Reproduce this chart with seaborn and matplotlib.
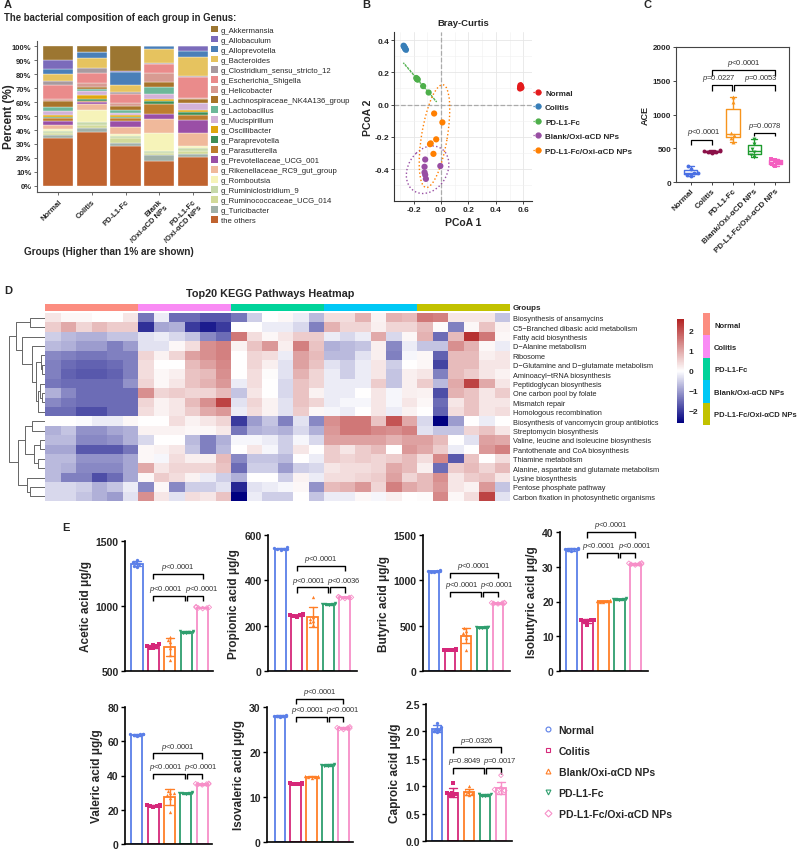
import numpy as np
import pandas as pd
import matplotlib
matplotlib.use("Agg")
import matplotlib.pyplot as plt
import seaborn as sns
from matplotlib.colors import LinearSegmentedColormap, ListedColormap
from matplotlib.lines import Line2D
from matplotlib.patches import Patch, Ellipse
from matplotlib.ticker import FormatStrFormatter

sns.set_theme(style="white")
plt.rcParams["font.family"] = ["Liberation Sans", "DejaVu Sans"]
plt.rcParams["mathtext.fontset"] = "custom"
plt.rcParams["mathtext.it"] = "Liberation Sans:italic"
plt.rcParams["mathtext.rm"] = "Liberation Sans"

# ---------------- A: genus composition ----------------
genera = ["g_Akkermansia", "g_Allobaculum", "g_Alloprevotella", "g_Bacteroides",
          "g_Clostridium_sensu_stricto_12", "g_Escherichia_Shigella", "g_Helicobacter",
          "g_Lachnospiraceae_NK4A136_group", "g_Lactobacillus", "g_Mucispirillum",
          "g_Oscillibacter", "g_Paraprevotella", "g_Parasutterella", "g_Prevotellaceae_UCG_001",
          "g_Rikenellaceae_RC9_gut_group", "g_Romboutsia", "g_Ruminiclostridium_9",
          "g_Ruminococcaceae_UCG_014", "g_Turicibacter", "the others"]
genus_colors = ["#9c7631", "#7b6bbb", "#4a7fb8", "#e6c35f", "#a89a9f", "#ea8b8b", "#d89b92",
                "#a8742a", "#6cb89a", "#d3b2d8", "#dfa70f", "#3f8f57", "#bd7d2e", "#9a4fa6",
                "#f0b99b", "#f6f3b9", "#c7d9aa", "#d2da9a", "#a1b1a9", "#c0632f"]
comp_groups = ["Normal", "Colitis", "PD-L1-Fc", "Blank/Oxi-αCD NPs", "PD-L1-Fc/Oxi-αCD NPs"]
comp_labels = ["Normal", "Colitis", "PD-L1-Fc", "Blank\n/Oxi-αCD NPs", "PD-L1-Fc\n/Oxi-αCD NPs"]
comp_normal = [10, 6.5, 3.5, 5, 3, 10, 1, 4.5, 3, 2.5, 2, 0.5, 2, 3, 2.5, 1.5, 1.5, 1.5, 2, 34.5]
comp_colitis = [4, 0, 4.5, 7, 4, 7, 2.5, 1.5, 1.5, 3, 3, 1, 1, 1.5, 4.5, 8.5, 2, 2, 3, 38.5]
comp_pdl1 = [18, 0.5, 9.5, 5, 1, 7, 1.5, 3.5, 1.5, 2, 1, 1, 2, 4.5, 4.5, 1.5, 2, 3, 2.5, 28.5]
comp_blank = [0, 0, 2, 10, 0.5, 7, 6, 4, 5, 3.5, 1.5, 2, 7, 3.5, 10, 13, 1.5, 1.5, 4, 18]
comp_combo = [0, 3.5, 4.5, 13.5, 0.5, 15, 1, 2.5, 0.5, 5, 1, 2.5, 3, 9.5, 9.5, 1.5, 2, 2.5, 2, 20.5]

# ---------------- B: PCoA ----------------
pcoa_groups = ["Normal", "Colitis", "PD-L1-Fc", "Blank/Oxi-αCD NPs", "PD-L1-Fc/Oxi-αCD NPs"]
pcoa_colors = ["#e41a1c", "#377eb8", "#4daf4a", "#984ea3", "#ff7f00"]
pcoa1 = [0.575, 0.58, 0.585, 0.578, 0.582, 0.576,
         -0.27, -0.265, -0.26, -0.272, -0.255, -0.262,
         -0.175, -0.17, -0.18, -0.13, -0.09, -0.172,
         -0.115, -0.12, -0.12, -0.115, -0.11, -0.005,
         -0.05, 0.01, -0.035, -0.075, -0.08, -0.055]
pcoa2 = [0.10, 0.115, 0.105, 0.12, 0.11, 0.108,
         0.36, 0.355, 0.345, 0.365, 0.34, 0.35,
         0.16, 0.155, 0.165, 0.115, 0.075, 0.158,
         -0.34, -0.385, -0.42, -0.435, -0.46, -0.38,
         -0.055, -0.11, -0.215, -0.24, -0.245, -0.305]
ELLIPSE_SCALE = 3.4

# ---------------- C: ACE ----------------
ace_groups = ["Normal", "Colitis", "PD-L1-Fc", "Blank/Oxi-αCD NPs", "PD-L1-Fc/Oxi-αCD NPs"]
ace_colors = ["#4a6fe3", "#8b1048", "#f7941d", "#1e9b2e", "#f45fc0"]
ace_markers = ["o", "o", "^", "v", "s"]
ace_normal = [90, 110, 130, 140, 190, 230]
ace_colitis = [430, 440, 450, 455, 460, 470]
ace_pdl1 = [600, 650, 690, 730, 1190, 1255]
ace_blank = [370, 400, 440, 490, 570, 630]
ace_combo = [230, 260, 280, 300, 330, 345]

# ---------------- D: KEGG heatmap ----------------
kegg_pathways = ["Biosynthesis of ansamycins", "C5\u2212Branched dibasic acid metabolism",
                 "Fatty acid biosynthesis", "D\u2212Alanine metabolism", "Ribosome",
                 "D\u2212Glutamine and D\u2212glutamate metabolism", "Aminoacyl\u2212tRNA biosynthesis",
                 "Peptidoglycan biosynthesis", "One carbon pool by folate", "Mismatch repair",
                 "Homologous recombination", "Biosynthesis of vancomycin group antibiotics",
                 "Streptomycin biosynthesis", "Valine, leucine and isoleucine biosynthesis",
                 "Pantothenate and CoA biosynthesis", "Thiamine metabolism",
                 "Alanine, aspartate and glutamate metabolism", "Lysine biosynthesis",
                 "Pentose phosphate pathway", "Carbon fixation in photosynthetic organisms"]
kegg_groups = ["Normal", "Colitis", "PD-L1-Fc", "Blank/Oxi-αCD NPs", "PD-L1-Fc/Oxi-αCD NPs"]
kegg_group_colors = ["#fc8d80", "#f98bf4", "#00d39a", "#00c8f5", "#c2c200"]
kegg_zscores = [
    [0.3, 0.1, 0.1, 0, 0, 0.3, -1.4, -0.2, -1.5, -1.5, -1.7, -1.7, -1.4, -0.5, 0, 0.1, -0.2, -0.7, 0.4, 0.4, 0.9, 0.15, 0.9, 0.8, 1.6, 1.5, 0.3, 0.3, 0.3, -0.6],
    [0.6, 1.0, 0.5, 0.8, 0.6, 0.6, -2.1, -0.9, -0.8, -2.0, -2.3, -2.0, 0, 0, -0.2, -0.2, -0.4, -1.3, 0.9, 0.5, 0.5, 0.2, 0.5, 0.5, 0.8, 0.05, -1.3, 0.1, 0.7, 0.15],
    [-0.5, -0.7, -0.8, -0.8, -0.6, -0.6, -0.3, -0.2, -0.4, -0.6, -1.2, -1.5, 1.6, 0.4, 0.1, 0.3, 0.6, 0.6, -0.2, -0.4, -0.2, 1.0, -0.4, 0.1, 0.9, -1.5, 0.8, 2.4, 1.6, 0.1],
    [-0.7, -0.8, -1.0, -1.0, -1.3, -1.0, -0.3, -0.3, 0.1, 0.4, 1.3, 1.5, 0.15, 0.7, 1.2, 0.2, 1.5, 0.7, -0.8, -0.7, -0.6, 0.2, -1.2, -0.2, -0.6, -0.6, 1.3, 0.9, 0.1, -0.2],
    [-1.2, -1.3, -1.4, -1.4, -1.3, -1.3, 0.5, 0.15, 0.5, 1.1, 1.3, 1.5, 0, 0.5, 0.4, -0.2, 1.1, 0.8, -0.7, -0.7, -0.3, 0.2, -1.3, -0.1, 0.1, -1.6, 0.8, 0.8, 0.2, 0.3],
    [-1.3, -1.5, -1.6, -1.6, -1.5, -1.3, 0.4, 0, 0, 0.8, 1.1, 1.4, 0, 0.5, 0.2, -0.3, 1.1, 0.7, -0.3, -0.5, -0.2, 0.3, -0.5, 0, 0.1, -1.9, 0.8, 0.8, 0.3, 0.3],
    [-1.3, -1.6, -1.7, -1.7, -1.6, -1.3, 0.4, 0.1, 0.2, 0.7, 0.8, 1.3, 0, 0.4, 0.05, -0.3, 0.9, 0.5, -0.2, -0.5, -0.2, 0.3, -0.6, 0.2, 0.3, -1.3, 0.8, 0.6, 0.3, 0.15],
    [-1.4, -1.5, -1.5, -1.5, -1.5, -1.1, 0.5, 0.1, 0.3, 0.7, 0.9, 1.2, -0.2, 0.4, 0, -0.4, 0.7, 0.5, -0.2, -0.2, -0.2, 0.6, -0.6, 0.2, 0.6, -0.7, 1.0, 2.2, 1.0, 0.3],
    [-0.8, -1.2, -1.5, -1.5, -1.5, -1.5, 1.3, 0.5, 0.6, 0.5, 0.5, 0.8, -0.6, 0.3, 0, -0.4, 0.7, 0.15, -0.2, -0.2, 0, 0.3, -0.1, 0.2, 0.15, -1.8, 0.9, 0.7, 0.3, 0.6],
    [-1.2, -1.4, -1.5, -1.5, -1.5, -1.5, 0.5, 0.15, 0.3, 0.8, 1.3, 2.2, -0.3, 0.5, 0.15, -0.3, 0.7, 0.5, -0.2, -0.1, -0.1, 0.3, -0.1, 0.3, 0.1, -1.5, 0.3, 0.7, 0.3, 0.3],
    [-1.5, -1.5, -1.8, -1.8, -1.5, -1.5, 0.4, 0.15, 0.3, 0.6, 1.0, 1.2, -0.2, 0.4, 0.15, -0.3, 0.6, 0.1, -0.1, -0.2, 0, 0.3, -0.2, 0.15, 0, -1.6, 0.4, 0.7, 0.3, 0.4],
    [0, 0, -0.05, -0.2, -0.2, 0.1, 0, 0, 0.4, 0.15, 0.3, 0.5, -2.0, -1.0, -0.6, -1.3, -0.3, -1.2, 1.3, 1.6, 1.6, 0.7, 2.0, 1.0, -0.4, -2.6, -1.0, 0, -0.2, 0],
    [-0.8, -0.6, -1.1, -1.1, -0.9, -0.8, 0.15, 0.15, 0.15, 0.1, 0.1, 0.25, -1.4, -0.8, -0.7, -0.8, -0.4, -0.8, 1.2, 1.6, 1.6, 1.4, 1.3, 1.5, -0.3, -0.6, -0.6, 0.5, 0.7, 0.3],
    [-0.7, -0.7, -1.2, -1.2, -1.1, -0.8, -0.4, 0, 0, -0.7, -1.3, -0.8, -0.1, -0.1, -0.2, -0.5, -0.1, -0.4, 1.1, 1.1, 1.1, 1.1, 0.9, 1.1, 1.1, 0.8, 0, -0.3, 1.1, 1.0],
    [-0.9, -0.9, -1.7, -1.7, -1.7, -1.4, 0.1, 0.15, 0.3, -0.6, -1.3, -0.7, 0, 0.3, -0.1, -0.5, 0.3, 0, 0.6, 0.3, 0.6, 0.8, 0, 1.2, 1.0, 0.6, -0.2, 0, 1.2, 1.5],
    [-0.7, -0.7, -1.1, -1.1, -1.1, -0.9, 0.1, -0.1, 0.4, 0.2, 0.2, 0.8, -1.2, -0.6, -0.6, -0.7, 0, -0.2, 0.6, 0.5, 0.6, 0.5, 0.6, 0.8, 0.4, 1.4, -1.7, 0.7, 0, 0.4],
    [-0.7, -0.8, -1.2, -1.2, -1.2, -0.9, 1.0, 0.3, 0.5, 0.5, 0.5, 0.7, -1.5, -0.5, -0.5, -1.0, -0.5, -0.4, 0.3, 0.4, 0.4, 0.5, 1.0, 0.8, 0.2, -1.5, 0.6, 0.8, 0.5, 0.8],
    [-0.7, -1.3, -1.3, -1.8, -1.5, -0.9, 0.1, 0.6, 0.4, 0.15, -0.2, -0.5, -0.8, 0, 0, -0.5, 0.15, -0.2, 0.4, 0.4, 0.5, 0.6, 1.1, 0.5, 0.8, 1.3, 0.3, 0.6, 0.7, 0.3],
    [-0.4, -0.4, -0.5, -0.8, -0.6, -0.2, -1.2, 0.1, -1.2, -0.5, -0.5, -0.3, -2.2, -0.3, -0.2, -0.1, 0.1, -1.1, 0.8, 0.9, 1.2, 0.5, 1.5, 1.0, 0.8, 1.2, 0.3, 0.15, 1.2, -0.6],
    [-0.4, -0.4, -0.6, -0.8, -1.0, -0.3, 1.3, 0.3, -0.3, 0.4, 0.3, 0.7, -2.7, -0.2, -0.5, -0.5, 0, -0.6, -0.2, -0.2, 0.1, -0.1, 0.2, 0, 0.05, 1.4, 0.1, 0.4, 2.2, -0.3],
]
# row dendrogram: (left, right, height), leaves are row indices
kegg_tree = (((0, 1, 0.40),
              (2, (3, ((4, (5, 6, 0.08), 0.12), ((7, (8, 9, 0.08), 0.14), 10, 0.2), 0.25), 0.35), 0.62),
              0.80),
             (((11, 12, 0.35), ((13, 14, 0.15), (15, 16, 0.2), 0.3), 0.55),
              (17, (18, 19, 0.4), 0.5), 0.75),
             1.0)

# ---------------- E: short-chain fatty acids ----------------
scfa_groups = ["Normal", "Colitis", "Blank/Oxi-αCD NPs", "PD-L1-Fc", "PD-L1-Fc/Oxi-αCD NPs"]
scfa_colors = ["#5b7fe8", "#d6287a", "#ff7f27", "#2e9e6e", "#f78fc8"]
scfa_markers = ["o", "s", "^", "v", "D"]
acetic = [[1300, 1310, 1320, 1330, 1340, 1355], [675, 680, 690, 695, 700, 705],
          [585, 620, 680, 720, 740, 765], [790, 795, 800, 805, 810, 800], [980, 985, 990, 995, 990, 985]]
propionic = [[535, 538, 540, 542, 545, 540], [240, 243, 245, 247, 250, 245],
             [205, 215, 222, 230, 240, 325], [292, 294, 295, 296, 298, 295], [320, 322, 325, 327, 328, 324]]
butyric = [[1090, 1095, 1100, 1105, 1110, 1100], [230, 232, 235, 236, 238, 235],
           [235, 360, 400, 420, 440, 470], [475, 478, 480, 482, 485, 480], [740, 745, 750, 752, 755, 748]]
isobutyric = [[34.5, 34.8, 35, 35.2, 35.4, 35], [13.2, 14.2, 14.5, 14.6, 14.8, 14.6],
              [19.8, 20, 20.1, 20.2, 20.3, 20.1], [20.4, 20.6, 20.7, 20.8, 20.9, 20.7], [30.5, 30.7, 30.8, 31, 31.1, 30.8]]
valeric = [[63, 63.5, 64, 64.2, 64.5, 64], [21.8, 22, 22.3, 22.5, 22.7, 22.4],
           [18.5, 27, 28.5, 29.5, 30, 31], [29.3, 29.5, 29.7, 29.9, 30.1, 29.7], [34.5, 34.8, 35, 35.2, 35.4, 35]]
isovaleric = [[27.7, 27.9, 28, 28.1, 28.3, 28], [12.8, 12.9, 13, 13.1, 13.2, 13],
              [14.3, 14.4, 14.5, 14.6, 14.7, 14.5], [16.9, 17, 17.1, 17.2, 17.3, 17.1], [25, 25.2, 25.3, 25.4, 25.6, 25.3]]
caproic = [[1.98, 2.0, 2.03, 2.05, 2.08, 2.15], [0.82, 0.84, 0.85, 0.87, 0.88, 1.05],
           [0.84, 0.86, 0.88, 0.9, 0.92, 1.0], [0.82, 0.83, 0.84, 0.85, 0.86, 0.85], [0.88, 0.9, 0.92, 0.94, 0.96, 1.2]]
# significance: top bracket height, lower bracket height, top / left / right p-values
acetic_sig = [1246, 1077, "<0.0001", "<0.0001", "<0.0001"]
propionic_sig = [463, 370, "<0.0001", "<0.0001", "<0.0036"]
butyric_sig = [1081, 871, "<0.0001", "<0.0001", "<0.0001"]
isobutyric_sig = [40.0, 34.0, "<0.0001", "<0.0001", "<0.0001"]
valeric_sig = [53, 41, "<0.0001", "<0.0001", "<0.0001"]
isovaleric_sig = [31.8, 27.8, "<0.0001", "<0.0001", "<0.0001"]
caproic_sig = [1.71, 1.33, "=0.0326", "=0.8049", "=0.0017"]

# ---------------- figure helpers ----------------
W, H = 800, 853
fig = plt.figure(figsize=(W / 100, H / 100), dpi=100)


def px_axes(x0, y0, x1, y1):
    return fig.add_axes([x0 / W, 1 - y1 / H, (x1 - x0) / W, (y1 - y0) / H])


def ftext(x, y, s, **kw):
    kw.setdefault("va", "center")
    fig.text(x / W, 1 - y / H, s, **kw)


def bold_ticks(ax, size):
    for lab in ax.get_xticklabels() + ax.get_yticklabels():
        lab.set_fontweight("bold")
        lab.set_fontsize(size)


def bracket(ax, x1, x2, y, drop, lw=1.0):
    ax.plot([x1, x1, x2, x2], [y - drop, y, y, y - drop], color="black", lw=lw,
            clip_on=False, solid_capstyle="butt")


def ptext(ax, x, y, s, size=5.5):
    ax.text(x, y, "$p$" + s, ha="center", va="bottom", fontsize=size, color="#333333", clip_on=False)


# ================= A =================
ftext(4, 5, "A", fontsize=8, fontweight="bold")
ftext(4, 18, "The bacterial composition of each group in Genus:", fontsize=6.9, fontweight="bold")
axA = px_axes(37, 42, 212, 193)
comp = pd.DataFrame(dict(zip(comp_groups, [comp_normal, comp_colitis, comp_pdl1, comp_blank, comp_combo])),
                    index=genera)
xpos = np.arange(len(comp_groups))
base = np.zeros(len(comp_groups))
for genus, col in zip(genera[::-1], genus_colors[::-1]):
    vals = comp.loc[genus].to_numpy(dtype=float)
    axA.bar(xpos, vals, bottom=base, width=0.9, color=col, edgecolor="white", linewidth=0.25)
    base += vals
axA.set_xlim(-0.63, 4.57)
axA.set_ylim(-4.3, 103.6)
axA.set_yticks(range(0, 101, 10))
axA.set_yticklabels([f"{v}%" for v in range(0, 101, 10)])
axA.set_xticks(xpos)
axA.set_xticklabels(comp_labels, rotation=45, ha="right", rotation_mode="anchor")
bold_ticks(axA, 5.5)
sns.despine(ax=axA)
for s in ["left", "bottom"]:
    axA.spines[s].set_color("#555555")
    axA.spines[s].set_linewidth(0.8)
axA.tick_params(length=2.5, width=0.6, color="#555555", pad=1.5, left=True, bottom=True)
ftext(9, 117, "Percent (%)", fontsize=8.5, fontweight="bold", rotation=90, ha="center")
ftext(24, 252, "Groups (Higher than 1% are shown)", fontsize=7.2, fontweight="bold")
axA.legend([Patch(facecolor=c, edgecolor="none") for c in genus_colors], genera,
           loc="upper left", bbox_to_anchor=(211 / W, 1 - 27 / H), bbox_transform=fig.transFigure,
           frameon=False, fontsize=5.6, handlelength=0.9, handleheight=0.9, handletextpad=0.4,
           labelspacing=0.27, borderaxespad=0, borderpad=0)

# ================= B =================
ftext(362, 5, "B", fontsize=8, fontweight="bold")
axB = px_axes(394, 33, 532, 202)
pcoa_df = pd.DataFrame({"PCoA1": pcoa1, "PCoA2": pcoa2, "group": np.repeat(pcoa_groups, 6)})
axB.axhline(0, color="#aaaaaa", ls="--", lw=0.9, zorder=1)
axB.axvline(0, color="#aaaaaa", ls="--", lw=0.9, zorder=1)
sns.scatterplot(data=pcoa_df, x="PCoA1", y="PCoA2", hue="group", palette=pcoa_colors,
                s=20, linewidth=0, legend=False, ax=axB, zorder=3)
for g, c in zip(pcoa_groups, pcoa_colors):
    pts = pcoa_df.loc[pcoa_df.group == g, ["PCoA1", "PCoA2"]].to_numpy()
    evals, evecs = np.linalg.eigh(np.cov(pts.T))
    order = evals.argsort()[::-1]
    evals, evecs = evals[order], evecs[:, order]
    angle = np.degrees(np.arctan2(evecs[1, 0], evecs[0, 0]))
    axB.add_patch(Ellipse(pts.mean(axis=0), 2 * ELLIPSE_SCALE * np.sqrt(evals[0]),
                          2 * ELLIPSE_SCALE * np.sqrt(evals[1]), angle=angle,
                          fill=False, ls=":", lw=1.0, color=c, zorder=2))
axB.set_xlim(-0.342, 0.662)
axB.set_ylim(-0.597, 0.45)
axB.set_xticks([-0.2, 0, 0.2, 0.4, 0.6])
axB.set_yticks([-0.4, -0.2, 0, 0.2, 0.4])
axB.set_xticks([-0.3, -0.1, 0.1, 0.3, 0.5], minor=True)
axB.set_yticks([-0.5, -0.3, -0.1, 0.1, 0.3], minor=True)
axB.xaxis.set_major_formatter(FormatStrFormatter("%.1f"))
axB.yaxis.set_major_formatter(FormatStrFormatter("%.1f"))
axB.grid(True, which="major", color="#e6e6e6", lw=0.6)
axB.grid(True, which="minor", color="#f0f0f0", lw=0.4)
axB.set_axisbelow(True)
bold_ticks(axB, 6)
sns.despine(ax=axB)
for s in ["left", "bottom"]:
    axB.spines[s].set_color("#333333")
    axB.spines[s].set_linewidth(0.8)
axB.tick_params(which="major", length=2, width=0.6, pad=1.5, left=True, bottom=True)
axB.tick_params(which="minor", length=0)
axB.set_title("Bray-Curtis", fontsize=6.8, fontweight="bold", pad=5)
axB.set_xlabel("PCoA 1", fontsize=7.5, fontweight="bold", labelpad=3)
axB.set_ylabel("PCoA 2", fontsize=7.5, fontweight="bold", labelpad=1)
axB.legend([Line2D([0], [0], color=c, ls=":", lw=0.9, marker="o", ms=3.5) for c in pcoa_colors],
           pcoa_groups, loc="upper left", bbox_to_anchor=(533 / W, 1 - 90 / H),
           bbox_transform=fig.transFigure, frameon=False, prop={"weight": "bold", "size": 5.8},
           handlelength=1.2, handletextpad=0.3, labelspacing=0.85, borderaxespad=0, borderpad=0)

# ================= C =================
ftext(644, 5, "C", fontsize=8, fontweight="bold")
axC = px_axes(676, 48, 789, 183)
ace_df = pd.DataFrame({"group": np.repeat(ace_groups, 6),
                       "ACE": np.concatenate([ace_normal, ace_colitis, ace_pdl1, ace_blank, ace_combo])})
sns.boxplot(data=ace_df, x="group", y="ACE", hue="group", order=ace_groups, hue_order=ace_groups,
            palette=ace_colors, fill=False, whis=(0, 100), width=0.62, linewidth=1.0,
            legend=False, ax=axC)
for g, c, m in zip(ace_groups, ace_colors, ace_markers):
    sns.swarmplot(data=ace_df[ace_df.group == g], x="group", y="ACE", order=ace_groups,
                  color=c, marker=m, size=2.8, ax=axC)
axC.set_xlim(-0.7, 4.65)
axC.set_ylim(0, 2000)
axC.set_yticks([0, 500, 1000, 1500, 2000])
axC.set_xticks(range(5))
axC.set_xticklabels(ace_groups, rotation=45, ha="right", rotation_mode="anchor")
bold_ticks(axC, 5.8)
for s in axC.spines.values():
    s.set_visible(True)
    s.set_color("#444444")
    s.set_linewidth(0.8)
axC.tick_params(length=2, width=0.6, pad=1.5, left=True, bottom=True)
axC.set_xlabel("")
axC.set_ylabel("ACE", fontsize=6.5, fontweight="bold", labelpad=2)
bracket(axC, 0, 1, 629, 84, lw=0.9)
ptext(axC, 0.6, 660, "<0.0001", 5.5)
bracket(axC, 1, 1.97, 1435, 84, lw=0.9)
ptext(axC, 1.35, 1460, "=0.0227", 5.5)
bracket(axC, 2.03, 4, 1435, 84, lw=0.9)
ptext(axC, 3.3, 1460, "=0.0053", 5.5)
bracket(axC, 1, 4, 1656, 84, lw=0.9)
ptext(axC, 2.5, 1690, "<0.0001", 5.5)
bracket(axC, 3, 4, 727, 50, lw=0.9)
ptext(axC, 3.5, 760, "=0.0078", 5.5)

# ================= D =================
ftext(4, 291, "D", fontsize=8, fontweight="bold")
ftext(270, 294, "Top20 KEGG Pathways Heatmap", fontsize=7.8, fontweight="bold", ha="center")
kegg_cmap = LinearSegmentedColormap.from_list("kegg", ["#000080", "#ffffff", "#b22222"])
group_cmap = ListedColormap(kegg_group_colors)
kegg_df = pd.DataFrame(kegg_zscores, index=kegg_pathways)

axGb = px_axes(45, 305, 510, 312)
sns.heatmap(np.repeat(np.arange(len(kegg_groups)), 6)[None, :], cmap=group_cmap, vmin=-0.5, vmax=4.5,
            cbar=False, xticklabels=False, yticklabels=False, ax=axGb)
ftext(513, 308.5, "Groups", fontsize=5.8, fontweight="bold")

axD = px_axes(45, 314, 510, 502)
cax = px_axes(677, 320, 684, 424)
sns.heatmap(kegg_df, cmap=kegg_cmap, vmin=-2.6, vmax=2.6, xticklabels=False,
            yticklabels=kegg_pathways, cbar_ax=cax, ax=axD)
axD.yaxis.tick_right()
axD.tick_params(axis="y", length=0, pad=2, labelsize=5.3, labelright=True, labelleft=False)
plt.setp(axD.get_yticklabels(), rotation=0)
cax.set_yticks([-2, -1, 0, 1, 2])
cax.set_yticklabels(["\u22122", "\u22121", "0", "1", "2"], fontsize=6, fontweight="bold")
cax.tick_params(length=0, pad=3)
for s in cax.spines.values():
    s.set_visible(False)

axDen = px_axes(5, 314, 45, 502)


def draw_dendro(ax, node):
    if isinstance(node, int):
        return node + 0.5, 0.0
    left, right, h = node
    y1, h1 = draw_dendro(ax, left)
    y2, h2 = draw_dendro(ax, right)
    ax.plot([h1, h, h, h2], [y1, y1, y2, y2], color="#666666", lw=0.7)
    return (y1 + y2) / 2, h


draw_dendro(axDen, kegg_tree)
axDen.set_ylim(len(kegg_pathways), 0)
axDen.set_xlim(1.1, 0)
axDen.axis("off")

axLg = px_axes(703, 314, 710, 426)
sns.heatmap(np.arange(len(kegg_groups))[:, None], cmap=group_cmap, vmin=-0.5, vmax=4.5, cbar=False,
            xticklabels=False, yticklabels=kegg_groups, ax=axLg)
axLg.yaxis.tick_right()
axLg.tick_params(axis="y", length=0, pad=3, labelright=True, labelleft=False)
plt.setp(axLg.get_yticklabels(), rotation=0, fontsize=5.5, fontweight="bold")

# ================= E =================
ftext(62, 528, "E", fontsize=8, fontweight="bold")
scfa_specs = [
    ("Acetic acid μg/g", acetic, acetic_sig, (125, 542, 213, 672), (500, 1500), [500, 1000, 1500], (-0.73, 4.63)),
    ("Propionic acid μg/g", propionic, propionic_sig, (268, 536, 357, 672), (0, 600), [0, 200, 400, 600], (-0.78, 4.75)),
    ("Butyric acid μg/g", butyric, butyric_sig, (423, 536, 510, 672), (0, 1500), [0, 500, 1000, 1500], (-0.69, 4.75)),
    ("Isobutyric acid μg/g", isobutyric, isobutyric_sig, (560, 533, 648, 672), (0, 40), [0, 10, 20, 30, 40], (-0.72, 4.8)),
    ("Valeric acid μg/g", valeric, valeric_sig, (125, 708, 212, 845), (0, 80), [0, 20, 40, 60, 80], (-0.73, 4.6)),
    ("Isovaleric acid μg/g", isovaleric, isovaleric_sig, (267, 708, 353, 843), (0, 30), [0, 10, 20, 30], (-0.82, 4.6)),
    ("Caproic acid μg/g", caproic, caproic_sig, (426, 705, 512, 842), (0, 2.5), [0.0, 0.5, 1.0, 1.5, 2.0, 2.5], (-0.69, 4.69)),
]
for ylabel, acid, sig, box, ylim, yticks, xlim in scfa_specs:
    ax = px_axes(*box)
    df = pd.DataFrame({"group": np.repeat(scfa_groups, [len(v) for v in acid]),
                       "value": np.concatenate(acid)})
    for g, c, m in zip(scfa_groups, scfa_colors, scfa_markers):
        sub = df[df.group == g]
        sns.barplot(data=sub, x="group", y="value", order=scfa_groups, color=c, fill=False,
                    errorbar="sd", capsize=0.5, width=0.68, linewidth=1.3,
                    err_kws={"color": c, "linewidth": 1.0}, ax=ax)
        sns.swarmplot(data=sub, x="group", y="value", order=scfa_groups, color=c, marker=m,
                      size=2.4, ax=ax)
        pts = ax.collections[-1]
        pts.set_facecolor("none")
        pts.set_edgecolor(c)
        pts.set_linewidth(0.6)
    ax.set_xlim(*xlim)
    ax.set_ylim(*ylim)
    ax.set_yticks(yticks)
    if ylabel.startswith("Caproic"):
        ax.set_yticklabels([f"{v:.1f}" for v in yticks])
    ax.set_xticks([])
    ax.set_xlabel("")
    ax.set_ylabel(ylabel, fontsize=8.5, fontweight="bold", labelpad=3)
    bold_ticks(ax, 7.5)
    sns.despine(ax=ax)
    for s in ["left", "bottom"]:
        ax.spines[s].set_color("black")
        ax.spines[s].set_linewidth(1.2)
    ax.tick_params(axis="y", length=3, width=1.0, pad=1.5, left=True, color="black")
    span = ylim[1] - ylim[0]
    drop = 0.04 * span
    gap = 0.012 * span
    top_y, low_y, top_p, left_p, right_p = sig
    bracket(ax, 1, 4, top_y, drop)
    ptext(ax, 2.5, top_y + gap, top_p)
    bracket(ax, 1, 2.93, low_y, drop)
    bracket(ax, 3.07, 4, low_y, drop)
    ptext(ax, 1.75, low_y + gap, left_p)
    ptext(ax, 3.95, low_y + gap, right_p)

fig.legend([Line2D([0], [0], marker=m, ls="", mfc="none", mec=c, mew=0.8, ms=3.5)
            for c, m in zip(scfa_colors, scfa_markers)], scfa_groups,
           loc="upper left", bbox_to_anchor=(543 / W, 1 - 726 / H), frameon=False,
           prop={"weight": "bold", "size": 7.5}, labelspacing=1.05, handletextpad=0.5,
           handlelength=1.0, borderaxespad=0, borderpad=0)

fig.savefig("out.png", dpi=100)
